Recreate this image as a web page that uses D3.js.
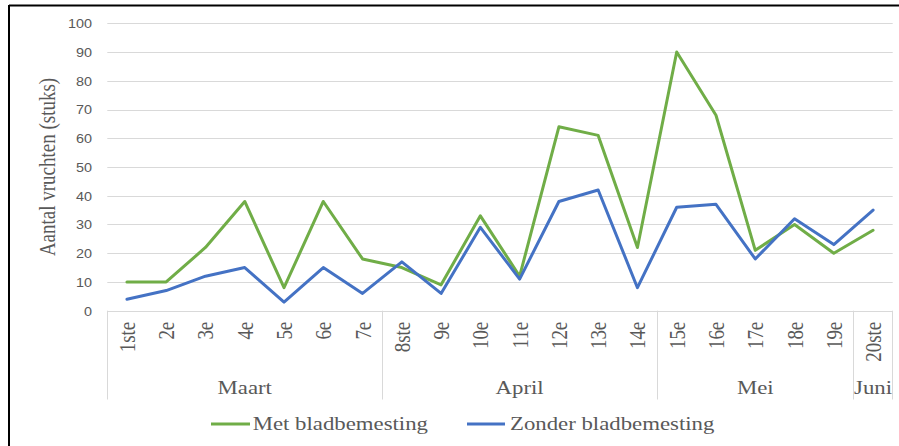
<!DOCTYPE html>
<html>
<head>
<meta charset="utf-8">
<script src="https://cdn.jsdelivr.net/npm/d3@7"></script>
<style>
  html, body { margin: 0; padding: 0; background: #fff; }
  svg { display: block; }
  .serif { font-family: "Liberation Serif", "Times New Roman", serif; }
  .sans { font-family: "Liberation Sans", Arial, sans-serif; }
</style>
</head>
<body>
<svg id="chart" width="899" height="446"></svg>
<script>
const categories = ["1ste","2e","3e","4e","5e","6e","7e","8ste","9e","10e","11e","12e","13e","14e","15e","16e","17e","18e","19e","20ste"];
const months = [
  {name: "Maart", from: 0, to: 6},
  {name: "April", from: 7, to: 13},
  {name: "Mei", from: 14, to: 18},
  {name: "Juni", from: 19, to: 19}
];
const metValues = [10,10,22,38,8,38,18,15,9,33,12,64,61,22,90,68,21,30,20,28];
const zonderValues = [4,7,12,15,3,15,6,17,6,29,11,38,42,8,36,37,18,32,23,35];
const seriesNames = ["Met bladbemesting", "Zonder bladbemesting"];
const yTicks = [0,10,20,30,40,50,60,70,80,90,100];

const colors = ["#70AD47", "#4472C4"];
const textColor = "#595959";
const SX = 1.2;

const svg = d3.select("#chart");

// outer frame (left and top edges visible)
svg.append("line").attr("x1", 9).attr("x2", 9).attr("y1", 5).attr("y2", 446)
  .attr("stroke", "#000").attr("stroke-width", 2);
svg.append("line").attr("x1", 9).attr("x2", 899).attr("y1", 5.5).attr("y2", 5.5)
  .attr("stroke", "#000").attr("stroke-width", 2);

const plotLeft = 107.3, plotRight = 892.7, plotTop = 23.3, plotBottom = 310.7;

const x = d3.scaleBand().domain(categories).range([plotLeft, plotRight]).padding(0);
const y = d3.scaleLinear().domain([0, 100]).range([plotBottom, plotTop]);

// gridlines
svg.append("g").selectAll("line").data(yTicks.filter(d => d > 0)).join("line")
  .attr("x1", plotLeft).attr("x2", plotRight)
  .attr("y1", d => Math.round(y(d)) + 0.5).attr("y2", d => Math.round(y(d)) + 0.5)
  .attr("stroke", "#d9d9d9").attr("stroke-width", 1);

// y tick labels
svg.append("g").selectAll("text").data(yTicks).join("text")
  .attr("class", "sans")
  .attr("transform", d => `translate(${plotLeft - 15.3},${y(d)}) scale(${SX},1)`)
  .attr("dy", "0.4em")
  .attr("text-anchor", "end")
  .attr("font-size", 12)
  .attr("fill", textColor)
  .text(d => d);

// y axis title
svg.append("text")
  .attr("class", "serif")
  .attr("transform", `translate(55,167) scale(${SX},1) rotate(-90)`)
  .attr("text-anchor", "middle")
  .attr("font-size", 19)
  .attr("fill", textColor)
  .text("Aantal vruchten (stuks)");

// category axis: baseline and month separators
svg.append("line").attr("x1", plotLeft).attr("x2", plotRight)
  .attr("y1", Math.round(plotBottom) + 0.5).attr("y2", Math.round(plotBottom) + 0.5)
  .attr("stroke", "#d9d9d9").attr("stroke-width", 1);

const sepIdx = [0].concat(months.map(m => m.to + 1));
const sepX = i => i < categories.length ? Math.round(x(categories[i])) + 0.5 : Math.round(plotRight) - 0.5;
svg.append("g").selectAll("line").data(sepIdx).join("line")
  .attr("x1", sepX).attr("x2", sepX)
  .attr("y1", plotBottom).attr("y2", 399.5)
  .attr("stroke", "#d9d9d9").attr("stroke-width", 1);

// category tick labels (rotated)
svg.append("g").selectAll("text").data(categories).join("text")
  .attr("class", "serif")
  .attr("transform", d => `translate(${x(d) + x.bandwidth() / 2},321.7) scale(${SX},1) rotate(-90)`)
  .attr("dy", "0.35em")
  .attr("text-anchor", "end")
  .attr("font-size", 19)
  .attr("fill", textColor)
  .text(d => d);

// month labels
svg.append("g").selectAll("text").data(months).join("text")
  .attr("class", "serif")
  .attr("transform", m => {
    const x0 = x(categories[m.from]);
    const x1 = x(categories[m.to]) + x.bandwidth();
    return `translate(${(x0 + x1) / 2},394) scale(${SX},1)`;
  })
  .attr("text-anchor", "middle")
  .attr("font-size", 19)
  .attr("fill", textColor)
  .text(m => m.name);

// lines
const line = d3.line()
  .x((d, i) => x(categories[i]) + x.bandwidth() / 2)
  .y(d => y(d));

[metValues, zonderValues].forEach((vals, k) => {
  svg.append("path")
    .datum(vals)
    .attr("d", line)
    .attr("fill", "none")
    .attr("stroke", colors[k])
    .attr("stroke-width", 3)
    .attr("stroke-linejoin", "round")
    .attr("stroke-linecap", "round");
});

// legend
const legendItems = [
  {name: seriesNames[0], color: colors[0], x1: 211, x2: 250, tx: 252.7},
  {name: seriesNames[1], color: colors[1], x1: 467, x2: 505, tx: 510}
];
const lg = svg.append("g");
legendItems.forEach(it => {
  lg.append("line").attr("x1", it.x1).attr("x2", it.x2).attr("y1", 424).attr("y2", 424)
    .attr("stroke", it.color).attr("stroke-width", 3);
  lg.append("text")
    .attr("class", "serif")
    .attr("transform", `translate(${it.tx},430) scale(${SX},1)`)
    .attr("font-size", 19)
    .attr("fill", textColor)
    .text(it.name);
});
</script>
</body>
</html>
